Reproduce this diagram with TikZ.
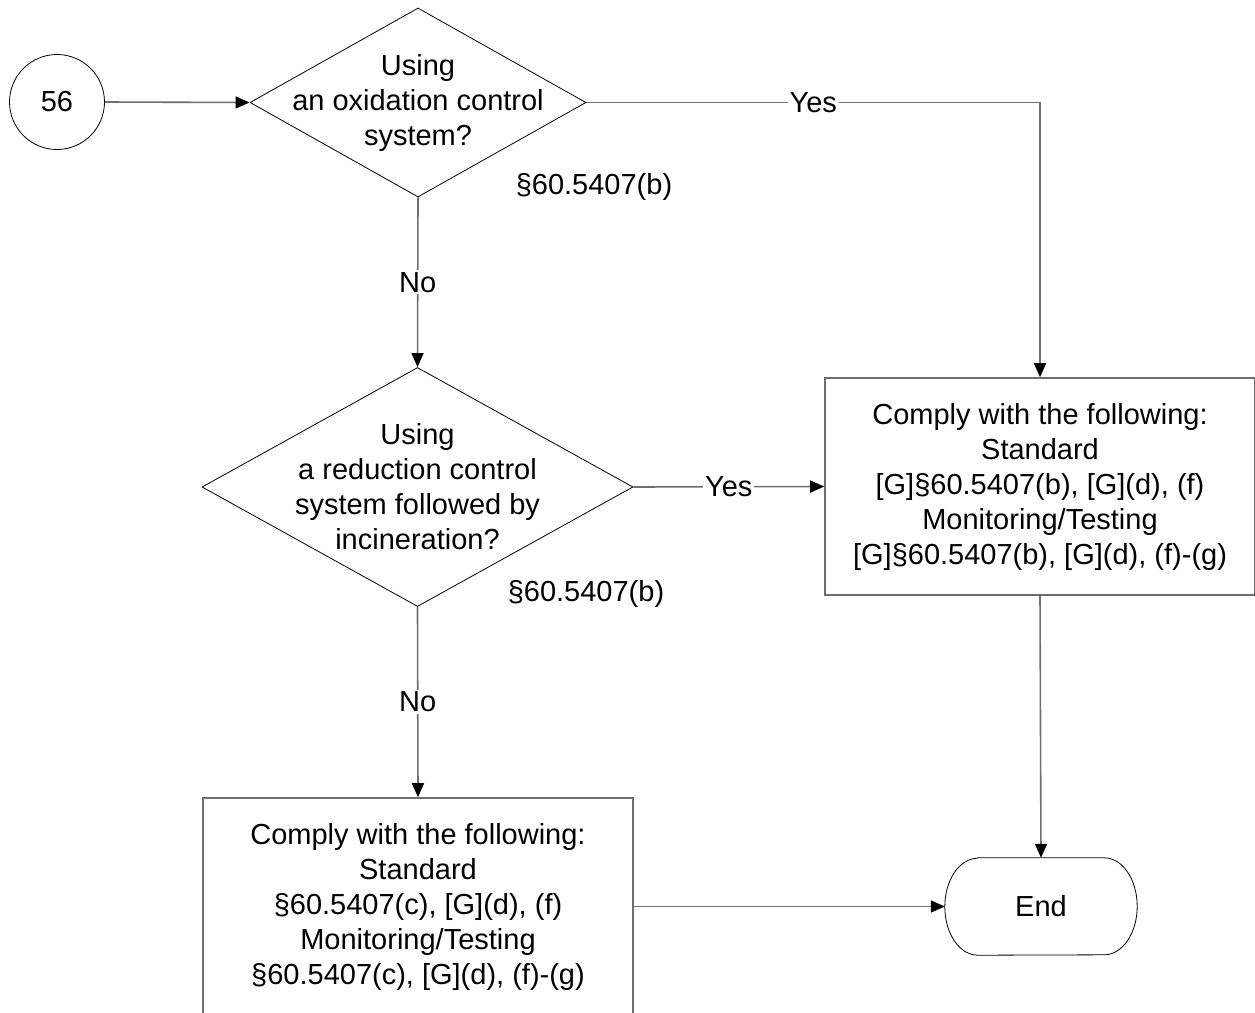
\documentclass[tikz,border=0pt]{standalone}
\usepackage{fontspec}
\setmainfont{Liberation Sans}
\usetikzlibrary{shapes.geometric,arrows.meta}
\definecolor{linegray}{HTML}{6E6E6E}
\begin{document}
\begin{tikzpicture}[x=1pt,y=1pt,
  every node/.style={font=\fontsize{29}{35}\selectfont, align=center},
  conn/.style={draw=linegray, line width=1.6pt},
  arr/.style={conn, -{Triangle[length=14pt,width=12pt,color=black]}},
  decision/.style={diamond, draw=black, line width=0.8pt, inner sep=0pt},
  actbox/.style={rectangle, draw=linegray, line width=1.6pt, minimum width=430pt, minimum height=217pt, inner sep=0pt},
  lbl/.style={fill=white, inner sep=2pt}]
\useasboundingbox (0,0) rectangle (1255,-1012);
\node[circle, draw=black, line width=0.8pt, minimum size=95pt, inner sep=0pt] (c56) at (57,-102) {56};
\node[decision, minimum width=336pt, minimum height=189pt,
  label={center:Using\\an oxidation control\\system?}] (d1) at (418,-102.5) {};
\node[decision, minimum width=431pt, minimum height=239pt,
  label={center:Using\\a reduction control\\system followed by\\incineration?}] (d2) at (417.5,-487) {};
\node[actbox] (rb) at (1040,-486.5) {Comply with the following:\\Standard\\{[G]\S60.5407(b), [G](d), (f)}\\Monitoring/Testing\\{[G]\S60.5407(b), [G](d), (f)-(g)}};
\node[actbox] (bb) at (418,-906.5) {Comply with the following:\\Standard\\{\S60.5407(c), [G](d), (f)}\\Monitoring/Testing\\{\S60.5407(c), [G](d), (f)-(g)}};
\node[rectangle, minimum width=192pt, minimum height=97pt, inner sep=0pt] (endn) at (1041,-906.5) {End};
\draw[black, line width=0.8pt] ([xshift=33pt]endn.north west) -- ([xshift=-33pt]endn.north east)
  arc[start angle=90, end angle=-90, x radius=33pt, y radius=48.5pt]
  -- ([xshift=33pt]endn.south west)
  arc[start angle=270, end angle=90, x radius=33pt, y radius=48.5pt] -- cycle;
\node (ref1) at (594,-187) {\S60.5407(b)};
\node (ref2) at (586,-594) {\S60.5407(b)};
\draw[arr] (c56.east) -- (d1.west);
\draw[arr] (d1.east) -| node[lbl, pos=0.25] {Yes} (rb.north);
\draw[arr] (d1.south) -- node[lbl] {No} (d2.north);
\draw[arr] (d2.east) -- node[lbl] {Yes} (rb.west);
\draw[arr] (d2.south) -- node[lbl] {No} (bb.north);
\draw[arr] (rb.south) -- (endn.north);
\draw[arr] (bb.east) -- (endn.west);
\end{tikzpicture}
\end{document}
